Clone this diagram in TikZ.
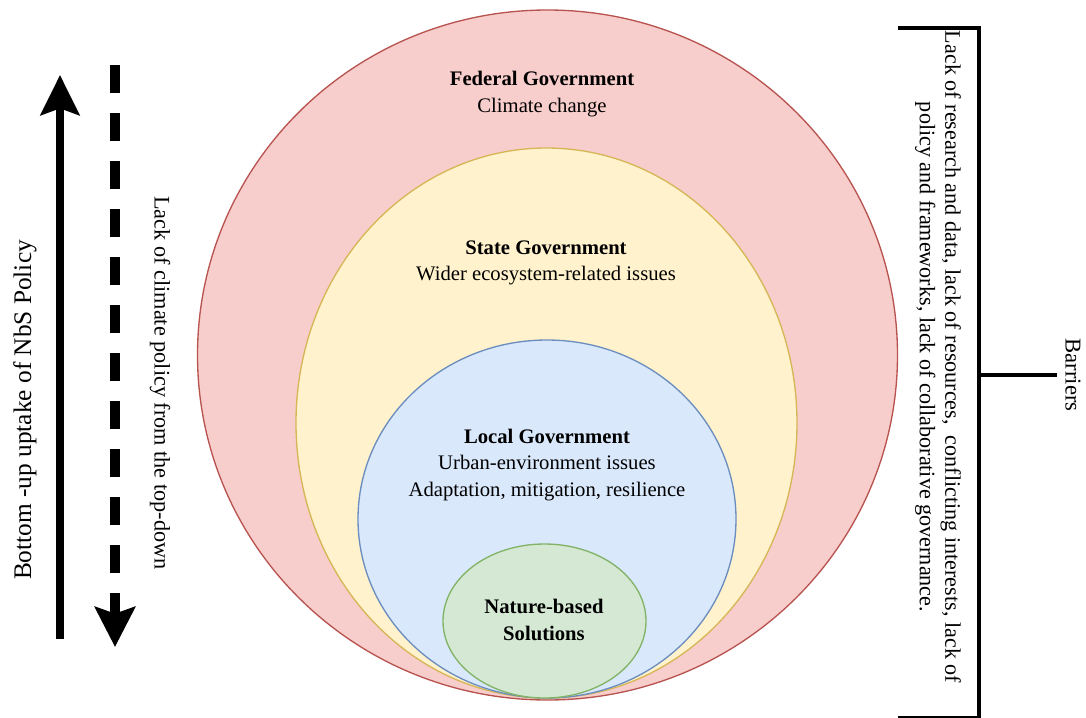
\documentclass[tikz,border=0pt]{standalone}
\usepackage{fontspec}
\setmainfont{Liberation Serif}
\usepackage{tikz}
\usetikzlibrary{arrows.meta, positioning, shapes.geometric}

\definecolor{fedfill}{HTML}{F8CECC}
\definecolor{fedline}{HTML}{B85450}
\definecolor{statefill}{HTML}{FFF2CC}
\definecolor{stateline}{HTML}{D6B656}
\definecolor{localfill}{HTML}{DAE8FC}
\definecolor{localline}{HTML}{6C8EBF}
\definecolor{nbsfill}{HTML}{D5E8D4}
\definecolor{nbsline}{HTML}{82B366}

\begin{document}
\begin{tikzpicture}[x=0.75pt, y=-0.75pt,
    ring/.style={ellipse, draw, line width=1pt, inner sep=0pt},
    lbl/.style={align=center, font=\fontsize{15.5}{20}\selectfont},
    side/.style={font=\fontsize{17}{20}\selectfont},
    bracket/.style={line width=2.6pt}]
  \useasboundingbox (0,0) rectangle (1086,718);

  % nested levels of government
  \node[ring, fill=fedfill, draw=fedline, minimum width=525pt, minimum height=517.5pt] (federal) at (547.5,355) {};
  \node[ring, fill=statefill, draw=stateline, minimum width=375.75pt, minimum height=412.5pt] (state) at (546.5,423) {};
  \node[ring, fill=localfill, draw=localline, minimum width=283.5pt, minimum height=268.5pt] (local) at (547,519) {};
  \node[ring, fill=nbsfill, draw=nbsline, minimum width=152.25pt, minimum height=115.5pt] (nbs) at (544.5,621) {};

  \node[lbl] (fedtxt) at (542,94) {\textbf{Federal Government}\\Climate change};
  \node[lbl] (statetxt) at (546,263) {\textbf{State Government}\\Wider ecosystem-related issues};
  \node[lbl] (localtxt) at (547,465) {\textbf{Local Government}\\Urban-environment issues\\Adaptation, mitigation, resilience};
  \node[lbl] (nbstxt) at (544,620) {\textbf{Nature-based}\\\textbf{Solutions}};

  % policy directions
  \coordinate (upS) at (60,639);
  \coordinate (upE) at (60,75);
  \coordinate (dnS) at (115,65);
  \coordinate (dnE) at (115,647);
  \draw[line width=6pt, -{Stealth[length=30pt, width=29pt, inset=5pt]}] (upS) -- (upE);
  \draw[line width=7.5pt, dash pattern=on 21pt off 15pt, -{Stealth[length=30pt, width=30pt, inset=5pt]}] (dnS) -- (dnE);
  \node[side, rotate=90, font=\fontsize{19}{20}\selectfont] (bottomup) at (25,410) {Bottom -up uptake of NbS Policy};
  \node[side, rotate=-90, font=\fontsize{16.7}{20}\selectfont] (topdown) at (160,383) {Lack of climate policy from the top-down};

  % barriers
  \coordinate (brTop) at (898,28);
  \coordinate (brBot) at (898,718);
  \coordinate (brMid) at (979,375);
  \draw[bracket] (brTop) -- (979,28) -- (979,718) -- (brBot);
  \node[side, rotate=-90, inner sep=6pt] (barriers) at (1073,375) {Barriers};
  \draw[bracket] (brMid) -- (barriers.south);
  \node[lbl, rotate=-90, font=\fontsize{16.6}{19}\selectfont] (barriertxt) at (938,357)
    {Lack of research and data, lack of resources,\ \ conflicting interests, lack of\\policy and frameworks, lack of collaborative governance.};
\end{tikzpicture}
\end{document}
